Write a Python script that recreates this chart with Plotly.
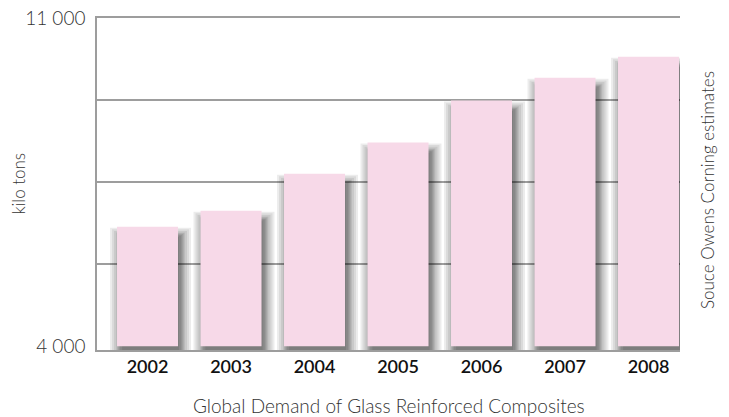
import plotly.graph_objects as go

years = ["2002", "2003", "2004", "2005", "2006", "2007", "2008"]
demand = [6550, 6890, 7680, 8345, 9240, 9725, 10175]
y_ticks = [4000, 11000]
y_tick_text = ["4 000", "11 000"]
grid_vals = [5750, 7500, 9250]
baseline = 4000

W, H = 729, 417
left, right, top, bottom = 97, 680, 18, 350          # pixels of the plot area
ml, mr, mt, mb = left, W - right, top, H - bottom
plot_w = right - left
plot_h = bottom - top
x_lo, x_hi = -0.605, 6.377
y_lo, y_hi = 3921, 11000
px_per_cat = plot_w / (x_hi - x_lo)
px_per_val = plot_h / (y_hi - y_lo)
bar_px = 61

fig = go.Figure()

# soft drop shadow layers (derived from the same data)
for d in [-2, 0, 1, 2, 3, 4, 6, 8, 10]:
    drop = (9 - 0.8 * d) / px_per_val
    fig.add_trace(go.Bar(
        x=years,
        y=[v - drop - (baseline - 200) for v in demand],
        base=baseline - 200,
        offset=(-bar_px / 2 + 3 - d) / px_per_cat,
        width=(bar_px + 2 * d) / px_per_cat,
        marker=dict(color="rgba(0,0,0,0.075)", line=dict(width=0)),
        hoverinfo="skip", showlegend=False,
    ))

fig.add_trace(go.Bar(
    x=years,
    y=[v - baseline for v in demand],
    base=baseline,
    offset=-(bar_px / 2) / px_per_cat,
    width=bar_px / px_per_cat,
    marker=dict(color="#f7d9e8", line=dict(width=0)),
    showlegend=False,
))

line_col = "#9d9d9d"
fig.update_layout(
    width=W, height=H,
    margin=dict(l=ml, r=mr, t=mt, b=mb, autoexpand=False),
    paper_bgcolor="white", plot_bgcolor="white",
    barmode="overlay",
    font=dict(family="Lato", color="#333333"),
    xaxis=dict(
        type="category", automargin=False,
        range=[x_lo, x_hi],
        showline=True, mirror=True, linecolor=line_col, linewidth=1.5,
        showgrid=False, ticks="", zeroline=False,
        tickfont=dict(family="Lato", size=18, color="#111111", weight=600),
        ticklabelstandoff=0, ticklabeloverflow="allow",
    ),
    yaxis=dict(
        range=[y_lo, y_hi], automargin=False,
        tickmode="array", tickvals=y_ticks, ticktext=y_tick_text,
        showgrid=False, zeroline=False,
        showline=True, linecolor=line_col, linewidth=1.5,
        ticks="", ticklabelstandoff=6, ticklabeloverflow="allow",
        tickfont=dict(family="Lato", size=19, color="#333333", weight=300),
        minor=dict(tickvals=grid_vals, showgrid=True, gridcolor=line_col,
                   gridwidth=1.5, ticks=""),
    ),
    annotations=[
        dict(text="kilo tons", xref="paper", yref="paper",
             x=(17.5 - left) / plot_w, y=0.5, xanchor="center", yanchor="middle",
             textangle=-90, showarrow=False,
             font=dict(family="Lato", size=17, color="#333333", weight=300)),
        dict(text="Global Demand of Glass Reinforced Composites",
             xref="paper", yref="paper",
             x=0.5, y=-(406 - bottom) / plot_h, xanchor="center", yanchor="middle",
             showarrow=False,
             font=dict(family="Lato", size=19, color="#333333", weight=300)),
        dict(text="Souce Owens Corning estimates", xref="paper", yref="paper",
             x=(707 - left) / plot_w, y=(bottom - 190) / plot_h,
             xanchor="center", yanchor="middle", textangle=-90, showarrow=False,
             font=dict(family="Lato", size=17, color="#333333", weight=300)),
    ],
)

# remove the default 8px page margin so the figure fills the window exactly
fig.write_html("out.html", config={"displayModeBar": False},
               post_script="document.body.style.margin='0';")
